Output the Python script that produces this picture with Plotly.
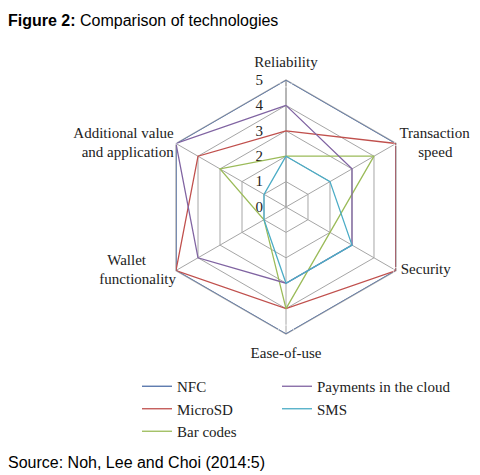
import plotly.graph_objects as go

NB = "\u00a0"

# categories, clockwise from the top
categories = [
    "Reliability",
    "Transaction speed",
    "Security",
    "Ease-of-use",
    "Wallet functionality",
    "Additional value and application",
]
category_labels = [
    "Reliability",
    "Transaction<br>" + NB * 5 + "speed",
    "Security",
    "Ease-of-use",
    "Wallet" + NB * 8 + "<br>functionality",
    "Additional value<br>and application",
]
radial_ticks = [0, 1, 2, 3, 4, 5]

nfc = [5, 5, 5, 5, 5, 5]
microsd = [3, 5, 5, 4, 5, 4]
bar_codes = [2, 4, 2, 4, 1, 3]
payments_cloud = [4, 3, 3, 3, 4, 5]
sms = [2, 2, 3, 3, 1, 1]

series = [
    ("NFC", nfc, "#4f6fa8", "legend"),
    ("MicroSD", microsd, "#c0504d", "legend"),
    ("Bar codes", bar_codes, "#9bbb59", "legend"),
    ("Payments in the cloud", payments_cloud, "#8064a2", "legend2"),
    ("SMS", sms, "#4bacc6", "legend2"),
]

W, H = 480, 475
OFF = 8  # page body margin
cx, cy, rad = 286 - OFF, 207 - OFF, 127

fig = go.Figure()
for name, vals, color, leg in series:
    fig.add_trace(
        go.Scatterpolar(
            r=vals + vals[:1],
            theta=categories + categories[:1],
            mode="lines",
            name=name,
            line=dict(color=color, width=1.3),
            legend=leg,
        )
    )

# category labels placed at the outer ring (invisible markers set the gap)
fig.add_trace(
    go.Scatterpolar(
        r=[radial_ticks[-1]] * len(categories),
        theta=categories,
        mode="markers+text",
        text=category_labels,
        textposition=[
            "top center",
            "middle right",
            "middle right",
            "bottom center",
            "middle left",
            "middle left",
        ],
        marker=dict(size=[14, 4, 6, 18, 0, 2], color="rgba(0,0,0,0)"),
        textfont=dict(family="Liberation Serif", size=15, color="#222"),
        cliponaxis=False,
        showlegend=False,
        hoverinfo="skip",
    )
)

serif = "Liberation Serif"
legend_style = dict(
    xanchor="left",
    yanchor="top",
    y=(H - 362) / H,
    font=dict(family=serif, size=15, color="#222"),
    bgcolor="rgba(0,0,0,0)",
    tracegroupgap=0,
)
fig.update_layout(
    width=W,
    height=H,
    margin=dict(l=0, r=0, t=0, b=0),
    paper_bgcolor="white",
    plot_bgcolor="white",
    polar=dict(
        domain=dict(
            x=[(cx - rad) / W, (cx + rad) / W],
            y=[(H - cy - rad) / H, (H - cy + rad) / H],
        ),
        gridshape="linear",
        bgcolor="white",
        radialaxis=dict(
            range=[0, 5],
            tickvals=radial_ticks,
            angle=90,
            tickangle=90,
            side="counterclockwise",
            showline=True,
            linecolor="#a6a6a6",
            linewidth=1.3,
            gridcolor="#a6a6a6",
            gridwidth=1.3,
            ticks="outside",
            ticklen=17,
            tickcolor="rgba(0,0,0,0)",
            tickfont=dict(family=serif, size=15, color="#222"),
            layer="below traces",
        ),
        angularaxis=dict(
            rotation=90,
            direction="clockwise",
            showline=True,
            linecolor="#a6a6a6",
            linewidth=1.3,
            gridcolor="#a6a6a6",
            gridwidth=1.3,
            ticks="",
            showticklabels=False,
            layer="below traces",
        ),
    ),
    legend=dict(x=129 / W, **legend_style),
    legend2=dict(x=269 / W, **legend_style),
    annotations=[
        dict(
            text="<b>Figure 2:</b> Comparison of technologies",
            x=(6 - OFF) / W,
            y=1 - (20 - OFF) / H,
            xref="paper",
            yref="paper",
            xanchor="left",
            yanchor="middle",
            showarrow=False,
            font=dict(family="Liberation Sans", size=16, color="black"),
        ),
        dict(
            text="Source: Noh, Lee and Choi (2014:5)",
            x=(6 - OFF) / W,
            y=1 - (462 - OFF) / H,
            xref="paper",
            yref="paper",
            xanchor="left",
            yanchor="middle",
            showarrow=False,
            font=dict(family="Liberation Sans", size=16, color="black"),
        ),
    ],
)

fig.write_html("out.html")
